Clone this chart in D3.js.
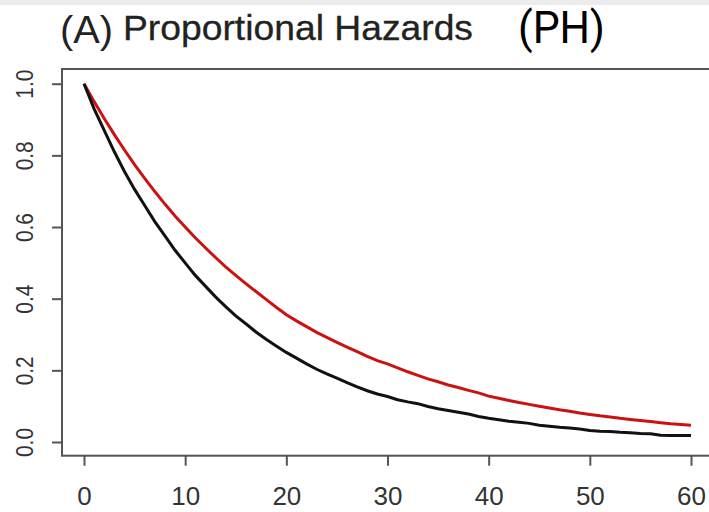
<!DOCTYPE html>
<meta charset="utf-8">
<script src="https://d3js.org/d3.v7.min.js"></script>
<style type="text/css">
body { margin: 0; background: #fff; }
.eixo line { stroke: #555; stroke-width: 2; }
.eixo path { display: none; }
.eixo text { fill: #333; font-family: "Liberation Sans", Arial, sans-serif; }
</style>
<body>
<div id="canvas"></div>
<script>

// tempo (meses) e curvas de sobrevivencia
var tempo = d3.range(0, 61);

var grupoPreto = [1.00, .93, .87, .81, .755, .705, .66, .615, .575, .535,
	.50, .465, .435, .405, .378, .352, .33, .307, .287, .268,
	.25, .234, .218, .203, .19, .178, .166, .154, .143, .134,
	.127, .118, .112, .107, .099, .093, .088, .083, .078, .071,
	.066, .062, .058, .055, .052, .047, .044, .041, .039, .036,
	.032, .030, .029, .027, .026, .024, .023, .019, .018, .018, .018];

var grupoVermelho = [1.00, .95, .903, .858, .815, .774, .736, .699, .664, .631,
	.60, .57, .542, .515, .489, .465, .442, .42, .398, .376,
	.355, .338, .322, .306, .292, .278, .265, .252, .239, .227,
	.218, .207, .196, .186, .176, .168, .159, .152, .144, .137,
	.128, .122, .116, .11, .105, .10, .095, .09, .086, .081,
	.077, .073, .07, .066, .063, .06, .057, .054, .051, .049, .047];

var ticksX = [0, 10, 20, 30, 40, 50, 60];
var ticksY = [0, 0.2, 0.4, 0.6, 0.8, 1.0];

var width = 709;
var height = 512;

var svg = d3.select('#canvas')
	.append("svg")
	.attr('width', width)
	.attr('height', height);

// faixa cinza no topo
svg.append("rect")
	.attr("x", 0).attr("y", 0)
	.attr("width", width).attr("height", 5)
	.style("fill", "#ececec");

// titulo
svg.append("text")
	.text("(A)")
	.attr("x", 60).attr("y", 43)
	.attr("textLength", 53)
	.attr("lengthAdjust", "spacingAndGlyphs")
	.style("font-family", "'Liberation Sans', Arial, sans-serif")
	.style("font-size", "39px")
	.style("fill", "#222");

svg.append("text")
	.text("Proportional Hazards")
	.attr("x", 123).attr("y", 40)
	.attr("textLength", 350)
	.attr("lengthAdjust", "spacingAndGlyphs")
	.style("font-family", "'Liberation Sans', Arial, sans-serif")
	.style("font-size", "35px")
	.style("fill", "#222")
	.style("stroke", "#222")
	.style("stroke-width", 0.3);

svg.append("text")
	.text("(PH)")
	.attr("x", 518).attr("y", 43)
	.attr("textLength", 87)
	.attr("lengthAdjust", "spacingAndGlyphs")
	.style("font-family", "Roboto, 'Noto Sans', sans-serif")
	.style("font-size", "44px")
	.style("fill", "#000");

// escalas ----------------------------------------------------------
var x = d3.scaleLinear()
	.domain([0, 60])
	.range([84, 691]);

var y = d3.scaleLinear()
	.domain([0, 1])
	.range([442, 83.7]);

var boxTop = 69, boxBottom = 455.7, boxLeft = 62;

// eixo X
var gx = svg.append("g")
	.attr("class", "eixo")
	.attr("transform", "translate(0," + boxBottom + ")")
	.call(d3.axisBottom(x).tickValues(ticksX).tickSize(10).tickPadding(21));
gx.selectAll("text")
	.style("font-size", "26px")
	.attr("dy", "0.71em");

// eixo Y
var gy = svg.append("g")
	.attr("class", "eixo")
	.attr("transform", "translate(" + boxLeft + ",0)")
	.call(d3.axisLeft(y).tickValues(ticksY).tickSize(10).tickFormat(d3.format(".1f")));
gy.selectAll("text")
	.attr("x", null).attr("dy", null)
	.attr("transform", function(d) { return "translate(-29,0) rotate(-90)"; })
	.attr("text-anchor", "middle")
	.attr("textLength", 29)
	.attr("lengthAdjust", "spacingAndGlyphs")
	.style("font-size", "24px");

// curvas -------------------------------------------------------------
var linha = d3.line()
	.x(function(d) { return x(d[0]); })
	.y(function(d) { return y(d[1]); });

svg.append("path")
	.attr("d", linha(d3.zip(tempo, grupoVermelho)))
	.style("fill", "none")
	.style("stroke", "#cc1111")
	.style("stroke-width", 3);

svg.append("path")
	.attr("d", linha(d3.zip(tempo, grupoPreto)))
	.style("fill", "none")
	.style("stroke", "#111")
	.style("stroke-width", 3);

// caixa
svg.append("rect")
	.attr("x", boxLeft).attr("y", boxTop)
	.attr("width", 720 - boxLeft).attr("height", boxBottom - boxTop)
	.style("fill", "none")
	.style("stroke", "#555")
	.style("stroke-width", 2);

</script>
</body>
